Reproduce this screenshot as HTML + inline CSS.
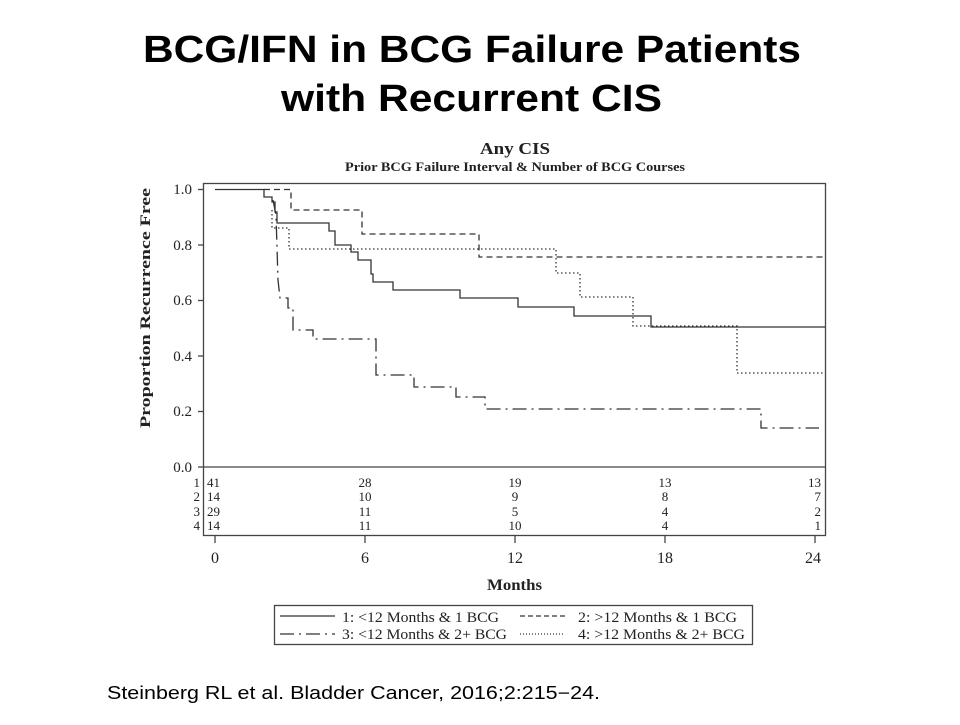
<!DOCTYPE html>
<html><head><style>html,body{margin:0;padding:0;background:#fff;}</style></head>
<body>
<svg width="960" height="720" xmlns="http://www.w3.org/2000/svg">
<rect width="960" height="720" fill="#fff"/>
<g font-family="Liberation Sans, Arial, sans-serif" font-weight="bold" font-size="38" fill="#000">
<text x="143" y="62" textLength="658" lengthAdjust="spacingAndGlyphs">BCG/IFN in BCG Failure Patients</text>
<text x="281" y="111" textLength="381" lengthAdjust="spacingAndGlyphs">with Recurrent CIS</text>
</g>
<g font-family="Liberation Serif, serif" font-weight="bold" fill="#222">
<text x="480" y="154" font-size="17" textLength="70" lengthAdjust="spacingAndGlyphs">Any CIS</text>
<text x="345" y="171" font-size="12.5" textLength="340" lengthAdjust="spacingAndGlyphs">Prior BCG Failure Interval &amp; Number of BCG Courses</text>
<text x="0" y="0" font-size="15" text-anchor="middle" textLength="240" lengthAdjust="spacingAndGlyphs" transform="translate(150,308) rotate(-90)">Proportion Recurrence Free</text>
<text x="487" y="590" font-size="16" textLength="55" lengthAdjust="spacingAndGlyphs">Months</text>
</g>
<g stroke="#444" fill="none" stroke-width="1.3">
<rect x="203.5" y="183.5" width="622" height="352"/>
<line x1="203" y1="467" x2="826" y2="467"/>
<line x1="198" y1="189.5" x2="203" y2="189.5"/>
<line x1="198" y1="245" x2="203" y2="245"/>
<line x1="198" y1="300.5" x2="203" y2="300.5"/>
<line x1="198" y1="356" x2="203" y2="356"/>
<line x1="198" y1="411.5" x2="203" y2="411.5"/>
<line x1="198" y1="467" x2="203" y2="467"/>
<line x1="215" y1="536" x2="215" y2="543"/>
<line x1="365" y1="536" x2="365" y2="543"/>
<line x1="515" y1="536" x2="515" y2="543"/>
<line x1="665" y1="536" x2="665" y2="543"/>
<line x1="815" y1="536" x2="815" y2="543"/>
</g>
<g font-family="Liberation Serif, serif" fill="#222" font-size="15" text-anchor="end">
<text x="192" y="194">1.0</text><text x="192" y="250">0.8</text><text x="192" y="305">0.6</text>
<text x="192" y="361">0.4</text><text x="192" y="416">0.2</text><text x="192" y="472">0.0</text>
</g>
<g font-family="Liberation Serif, serif" fill="#222" font-size="13">
<g text-anchor="end"><text x="200" y="487">1</text><text x="200" y="501">2</text><text x="200" y="516">3</text><text x="200" y="530">4</text></g>
<g text-anchor="start"><text x="207" y="487">41</text><text x="207" y="501">14</text><text x="207" y="516">29</text><text x="207" y="530">14</text></g>
<g text-anchor="middle">
<text x="365" y="487">28</text><text x="365" y="501">10</text><text x="365" y="516">11</text><text x="365" y="530">11</text>
<text x="515" y="487">19</text><text x="515" y="501">9</text><text x="515" y="516">5</text><text x="515" y="530">10</text>
<text x="665" y="487">13</text><text x="665" y="501">8</text><text x="665" y="516">4</text><text x="665" y="530">4</text>
</g>
<g text-anchor="end"><text x="821" y="487">13</text><text x="821" y="501">7</text><text x="821" y="516">2</text><text x="821" y="530">1</text></g>
</g>
<g font-family="Liberation Serif, serif" fill="#222" font-size="16" text-anchor="middle">
<text x="215" y="563">0</text><text x="365" y="563">6</text><text x="515" y="563">12</text><text x="665" y="563">18</text><text x="813" y="563">24</text>
</g>
<g fill="none" stroke="#333" stroke-width="1.3">
<polyline points="215,189.5 264,189.5 264,197 272,197 272,202 275,202 275,212 277,212 277,223 329,223 329,231 335,231 335,245 351,245 351,252 358,252 358,260 371,260 371,274 373,274 373,282 393,282 393,290 460,290 460,298 518,298 518,307 574,307 574,316 651,316 651,327 825,327"/>
<polyline stroke-dasharray="6,4" points="264,189.5 291,189.5 291,210 362,210 362,234 479,234 479,257 825,257"/>
<polyline stroke-dasharray="1.5,2.5" points="272,210 272,228 289,228 289,249 556,249 556,273 580,273 580,297 633,297 633,326 737,326 737,373 825,373"/>
<polyline stroke-dasharray="14,5,2,5" points="273,200 276,215 278,280 280,298 288,298 288,308 293,308 293,330 313,330 313,339 376,339 376,375 414,375 414,387 456,387 456,397 485,397 485,409 761,409 761,428 819,428"/>
</g>
<rect x="274.5" y="605.5" width="478" height="39" fill="none" stroke="#444" stroke-width="1.3"/>
<g stroke="#333" stroke-width="1.3">
<line x1="280" y1="616" x2="335" y2="616"/>
<line x1="520" y1="616" x2="565" y2="616" stroke-dasharray="5,3"/>
<line x1="280" y1="634" x2="335" y2="634" stroke-dasharray="14,5,2,5"/>
<line x1="520" y1="634" x2="565" y2="634" stroke-dasharray="1,2"/>
</g>
<g font-family="Liberation Serif, serif" fill="#222" font-size="15">
<text x="342" y="622" textLength="157" lengthAdjust="spacingAndGlyphs">1: &lt;12 Months &amp; 1 BCG</text>
<text x="578" y="622" textLength="159" lengthAdjust="spacingAndGlyphs">2: &gt;12 Months &amp; 1 BCG</text>
<text x="342" y="639" textLength="165" lengthAdjust="spacingAndGlyphs">3: &lt;12 Months &amp; 2+ BCG</text>
<text x="578" y="639" textLength="167" lengthAdjust="spacingAndGlyphs">4: &gt;12 Months &amp; 2+ BCG</text>
</g>
<text x="107" y="699" font-family="Liberation Sans, Arial, sans-serif" font-size="18" fill="#000" textLength="493" lengthAdjust="spacingAndGlyphs">Steinberg RL et al. Bladder Cancer, 2016;2:215−24.</text>
</svg>
</body></html>
